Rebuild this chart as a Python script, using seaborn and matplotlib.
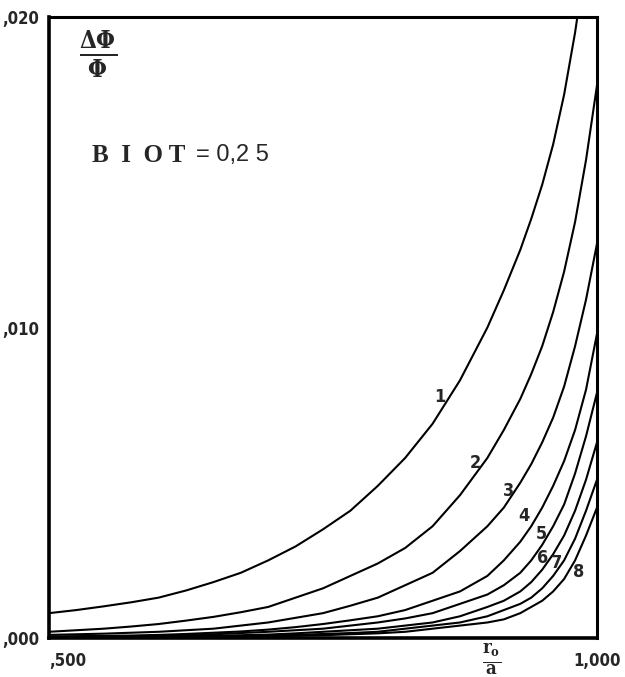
import numpy as np
import pandas as pd
import matplotlib
matplotlib.use("Agg")
import matplotlib.pyplot as plt
import seaborn as sns

r_grid = [0.50, 0.525, 0.55, 0.575, 0.60, 0.625, 0.65, 0.675, 0.70, 0.725, 0.75, 0.775,
          0.80, 0.825, 0.85, 0.875, 0.90, 0.915, 0.93, 0.94, 0.95, 0.96, 0.97, 0.98,
          0.99, 1.00]

r_1 = r_grid[:-2] + [0.985]
dphi_1 = [0.0008, 0.0009, 0.00102, 0.00115, 0.0013, 0.00153, 0.0018, 0.0021, 0.0025, 0.00295,
          0.0035, 0.0041, 0.0049, 0.0058, 0.0069, 0.0083, 0.0100, 0.0112, 0.0125, 0.0135,
          0.0146, 0.0159, 0.0175, 0.0195, 0.0207]

dphi_2 = [0.0002, 0.00025, 0.0003, 0.00037, 0.00045, 0.00056, 0.00068, 0.00083, 0.0010, 0.0013,
          0.0016, 0.0020, 0.0024, 0.0029, 0.0036, 0.0046, 0.0058, 0.0067, 0.0077, 0.0085,
          0.0094, 0.0105, 0.0118, 0.0134, 0.0154, 0.0178]

dphi_3 = [0.0001, 0.00012, 0.00014, 0.00017, 0.0002, 0.00025, 0.0003, 0.0004, 0.0005, 0.00065,
          0.0008, 0.00104, 0.0013, 0.0017, 0.0021, 0.0028, 0.0036, 0.0042, 0.0050, 0.0056,
          0.0063, 0.0071, 0.0081, 0.0094, 0.0109, 0.0127]

dphi_4 = [0.00005, 0.00006, 0.00007, 0.00008, 0.0001, 0.00013, 0.00017, 0.00021, 0.00027, 0.00035,
          0.00045, 0.00057, 0.0007, 0.0009, 0.0012, 0.0015, 0.0020, 0.0025, 0.0031, 0.0036,
          0.0042, 0.0049, 0.0057, 0.0067, 0.0080, 0.0098]

dphi_5 = [0.00003, 0.000035, 0.00004, 0.00005, 0.00007, 0.00009, 0.00012, 0.00016, 0.0002, 0.00025,
          0.0003, 0.0004, 0.0005, 0.00063, 0.0008, 0.0011, 0.0014, 0.0017, 0.0021, 0.0025,
          0.0030, 0.0036, 0.0043, 0.0053, 0.0065, 0.0079]

dphi_6 = [0.00002, 0.000025, 0.00003, 0.00004, 0.00005, 0.00006, 0.00007, 0.00009, 0.00011, 0.00015,
          0.0002, 0.00025, 0.0003, 0.0004, 0.0005, 0.0007, 0.0010, 0.0012, 0.0015, 0.0018,
          0.0022, 0.0027, 0.0033, 0.0041, 0.0051, 0.0063]

dphi_7 = [0.00001, 0.000015, 0.00002, 0.000025, 0.00003, 0.00004, 0.00005, 0.00006, 0.00008, 0.0001,
          0.00013, 0.00016, 0.0002, 0.0003, 0.0004, 0.0005, 0.0007, 0.0009, 0.0011, 0.0013,
          0.0016, 0.0020, 0.0025, 0.0032, 0.0041, 0.0051]

dphi_8 = [0.00001, 0.00001, 0.00001, 0.000015, 0.00002, 0.000025, 0.00003, 0.00004, 0.00005, 0.00007,
          0.00009, 0.00012, 0.00015, 0.0002, 0.0003, 0.0004, 0.0005, 0.0006, 0.0008, 0.0010,
          0.0012, 0.0015, 0.0019, 0.0025, 0.0033, 0.0042]

courbes = ["1", "2", "3", "4", "5", "6", "7", "8"]
# position des numéros de courbe (données)
label_r = [0.857, 0.889, 0.919, 0.933, 0.949, 0.950, 0.963, 0.983]
label_dphi = [0.00776, 0.00564, 0.00473, 0.00393, 0.00335, 0.00258, 0.00242, 0.00213]

x_ticks = [0.5, 0.6, 0.7, 0.8, 0.9, 1.0]
y_ticks = [0.0, 0.002, 0.004, 0.006, 0.008, 0.010, 0.012, 0.014, 0.016, 0.018, 0.020]
y_ticklabels = [",000", "", "", "", "", ",010", "", "", "", "", ",020"]
x_ticklabels = [",500", "", "", "", "", "1,000"]

all_r = [r_1] + [r_grid] * 7
all_dphi = [dphi_1, dphi_2, dphi_3, dphi_4, dphi_5, dphi_6, dphi_7, dphi_8]
frames = []
for nom, r, d in zip(courbes, all_r, all_dphi):
    frames.append(pd.DataFrame({"r": r, "dphi": d, "courbe": nom}))
df = pd.concat(frames, ignore_index=True)

sns.set_style("white")
plt.rcParams["font.family"] = ["DejaVu Sans"]
plt.rcParams["font.stretch"] = "condensed"
plt.rcParams["mathtext.fontset"] = "dejavuserif"

fig = plt.figure(figsize=(6.25, 6.77), dpi=100)
ax = fig.add_axes([49 / 625, 1 - 638 / 677, 548 / 625, 621 / 677])

sns.lineplot(data=df, x="r", y="dphi", hue="courbe",
             palette={c: "black" for c in courbes}, legend=False,
             linewidth=1.5, ax=ax, sort=False)
for ln in ax.lines:
    ln.set_solid_joinstyle("round")

ax.set_xlim(0.5, 1.0)
ax.set_ylim(0.0, 0.020)
ax.set_xlabel("")
ax.set_ylabel("")

for side in ["left", "bottom"]:
    ax.spines[side].set_linewidth(2.6)
for side in ["top", "right"]:
    ax.spines[side].set_linewidth(2.2)
for s in ax.spines.values():
    s.set_color("black")

ax.set_yticks(y_ticks)
ax.set_yticklabels(y_ticklabels)
ax.set_xticks(x_ticks)
ax.set_xticklabels(x_ticklabels)
ax.tick_params(axis="y", direction="in", length=8, width=2, pad=7,
               labelsize=12)
ax.tick_params(axis="x", direction="in", length=5, width=2, pad=10,
               labelsize=12)
for t in ax.get_xticklabels() + ax.get_yticklabels():
    t.set_fontweight("bold")
    t.set_fontstretch("condensed")
ax.get_xticklabels()[0].set_horizontalalignment("left")
ax.get_xticklabels()[-1].set_horizontalalignment("center")

for nom, xr, yd in zip(courbes, label_r, label_dphi):
    ax.text(xr, yd, nom, fontsize=13, fontweight="bold", ha="center",
            va="center", fontstretch="condensed")

# titres
ax.text(0.09, 0.94, r"$\mathbf{\frac{\Delta\Phi}{\Phi}}$", transform=ax.transAxes,
        fontsize=25, ha="center", va="center")
ax.text(0.078, 0.777, "B  I  O T", transform=ax.transAxes, fontsize=18,
        fontweight="bold", family=["Liberation Serif", "DejaVu Serif"],
        ha="left", va="center")
ax.text(0.268, 0.777, "= 0,2 5", transform=ax.transAxes, fontsize=17,
        family=["Liberation Sans", "DejaVu Sans"], fontstretch="normal",
        ha="left", va="center")
fig.text(492 / 625, 1 - 660 / 677, r"$\mathbf{\frac{r_o}{a}}$", fontsize=19,
         ha="center", va="center")

fig.savefig("out.png", dpi=100, facecolor="white")
